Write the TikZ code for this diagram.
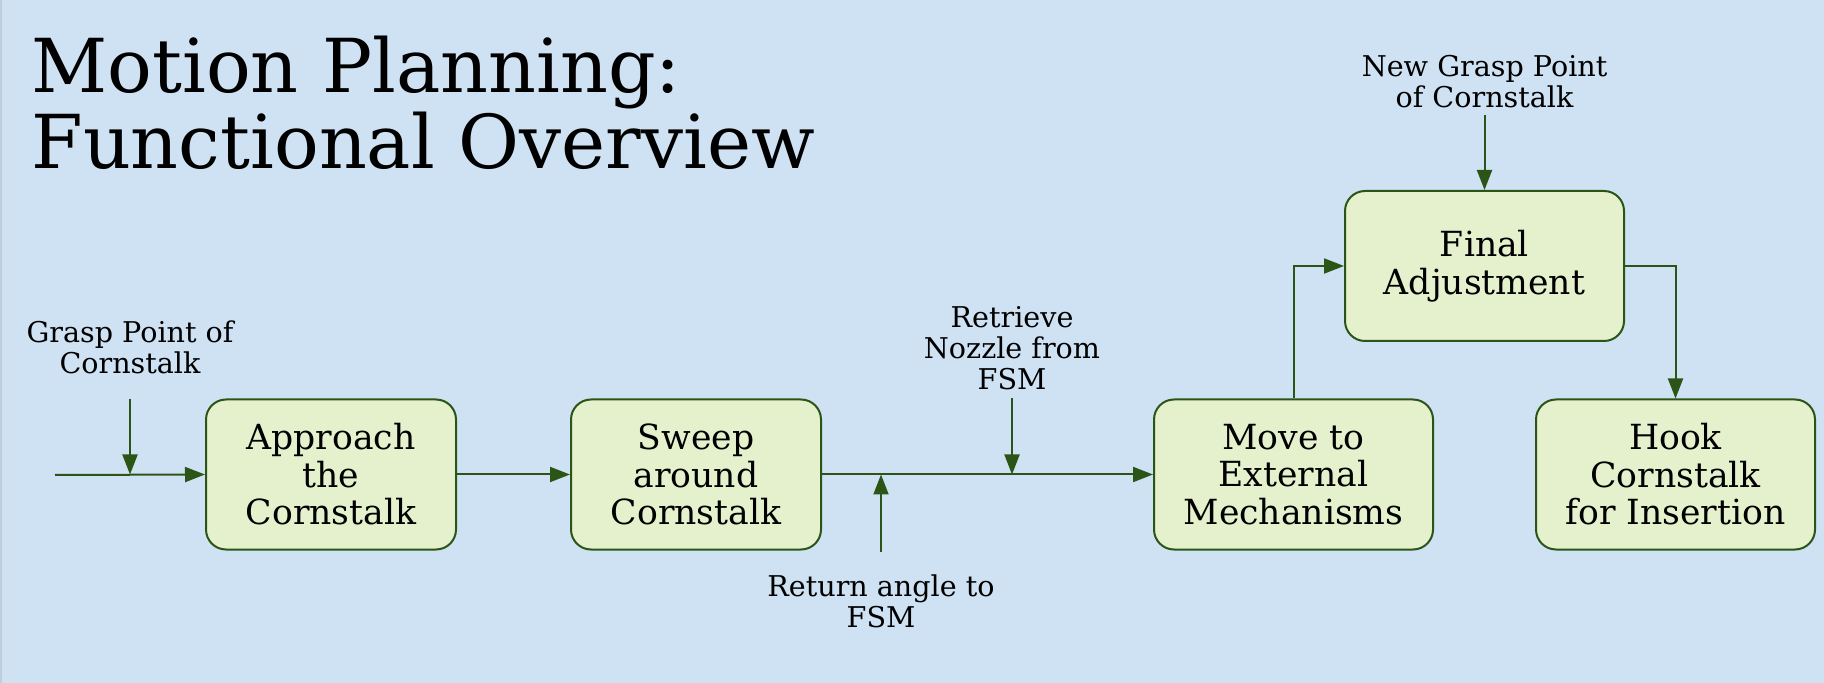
\documentclass[tikz,border=0pt]{standalone}
\usepackage{fontspec}
\setmainfont{DejaVu Serif}
\usetikzlibrary{arrows.meta}
\definecolor{bgblue}{HTML}{CFE2F3}
\definecolor{boxfill}{HTML}{E5F0CD}
\definecolor{dgreen}{HTML}{2B5516}
\tikzset{
  stepbox/.style={draw=dgreen, line width=1pt, fill=boxfill, rounded corners=10pt,
    minimum height=75pt, inner sep=0pt, align=center,
    font=\fontsize{17.3pt}{18.75pt}\selectfont},
  narrowbox/.style={stepbox, minimum width=125pt},
  widebox/.style={stepbox, minimum width=139.5pt},
  lbl/.style={align=center, inner sep=0pt, font=\fontsize{14.3pt}{15.5pt}\selectfont},
  arr/.style={draw=dgreen, line width=1pt, -{Triangle[length=10pt,width=7.5pt]}},
}
\begin{document}
\begin{tikzpicture}[x=0.5pt, y=-0.5pt]
\fill[bgblue] (0,0) rectangle (1824,683);
\useasboundingbox (0,0) rectangle (1824,683);
\draw[color=bgblue!80!gray, line width=1pt] (0.5,0) -- (0.5,683);
\node[anchor=base west, align=left, inner sep=0pt, font=\fontsize{37.2pt}{38pt}\selectfont] (title) at (31,169) {Motion Planning:\\Functional Overview};

\node[narrowbox] (app) at (331,474.5) {Approach\\the\\Cornstalk};
\node[narrowbox] (swp) at (696,474.5) {Sweep\\around\\Cornstalk};
\node[widebox] (mov) at (1293.5,474.5) {Move to\\External\\Mechanisms};
\node[widebox] (hook) at (1675.5,474.5) {Hook\\Cornstalk\\for Insertion};
\node[widebox] (fin) at (1484.5,266) {Final\\Adjustment};

\node[lbl, anchor=base] (lgrasp) at (130,374) {Grasp Point of\\Cornstalk};
\node[lbl, anchor=base] (lret) at (1012,390) {Retrieve\\Nozzle from\\FSM};
\node[lbl, anchor=base] (lreturn) at (881,627) {Return angle to\\FSM};
\node[lbl, anchor=base] (lnew) at (1484.5,108) {New Grasp Point\\of Cornstalk};

\coordinate (start) at (55,475);
\coordinate (g1) at (130,399);
\coordinate (r1) at (881,552);
\coordinate (n1) at (1012,398);
\coordinate (ng) at (1484.5,115);

\draw[arr] (start) -- (app.west);
\draw[arr] (g1) -- (g1 |- app.west);
\draw[arr] (app.east) -- (swp.west);
\draw[arr] (swp.east) -- (mov.west);
\draw[arr] (r1) -- (r1 |- swp.east);
\draw[arr] (n1) -- (n1 |- swp.east);
\draw[arr] (mov.north) |- (fin.west);
\draw[arr] (fin.east) -| (hook.north);
\draw[arr] (ng) -- (fin.north);
\end{tikzpicture}
\end{document}
